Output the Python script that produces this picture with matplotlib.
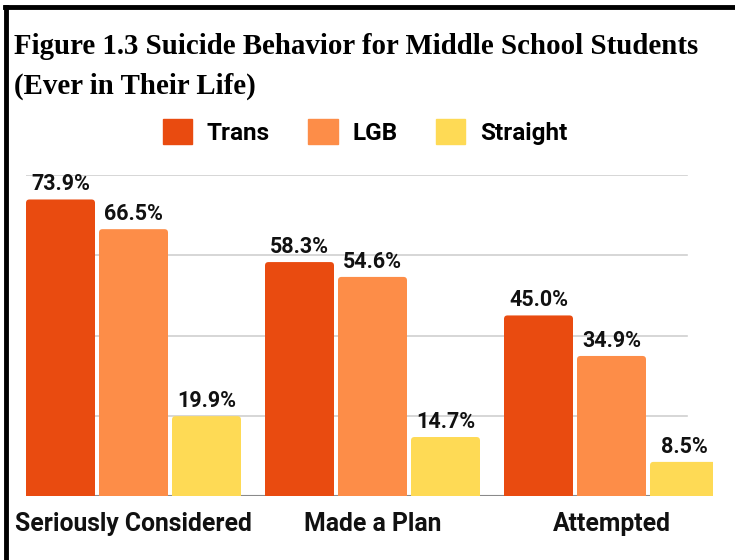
import matplotlib
matplotlib.use("Agg")
import matplotlib.pyplot as plt
import numpy as np
from matplotlib.lines import Line2D
from matplotlib.patches import Rectangle, FancyBboxPatch

categories = ["Seriously Considered", "Made a Plan", "Attempted"]
series_names = ["Trans", "LGB", "Straight"]
trans = [73.9, 58.3, 45.0]
lgb = [66.5, 54.6, 34.9]
straight = [19.9, 14.7, 8.5]
colors = ["#E94B10", "#FD8D48", "#FEDA55"]

W, H = 735, 560
fig = plt.figure(figsize=(W / 100, H / 100), dpi=100)

def fx(px):
    return px / W

def fy(py):
    return 1 - py / H

ax_left, ax_right, ax_top, ax_bot = 26, 713, 175, 496
ax = fig.add_axes([fx(ax_left), fy(ax_bot), fx(ax_right) - fx(ax_left), fy(ax_top) - fy(ax_bot)])
ax.set_ylim(0, 80)
group_px = 239
step = 73 / group_px
width = 69 / group_px
x0 = -step - width / 2
ax.set_xlim(x0, x0 + (ax_right - ax_left) / group_px)

# data units per pixel
xu = 1 / group_px
yu = 80 / (ax_bot - ax_top)
r_px = 3.5

x = np.arange(len(categories))
for i, (vals, c) in enumerate(zip([trans, lgb, straight], colors)):
    bars = ax.bar(x + (i - 1) * step, vals, width=width, color=c, zorder=3)
    for b, v in zip(bars, vals):
        bx, bw, bh = b.get_x(), b.get_width(), b.get_height()
        b.set_visible(False)
        ext = 2.0  # extend below baseline so only top corners show rounded
        p = FancyBboxPatch((bx, -ext), bw, bh + ext,
                           boxstyle=f"round,pad=0,rounding_size={r_px * xu}",
                           mutation_aspect=yu / xu, facecolor=c, edgecolor="none",
                           zorder=3, clip_on=True)
        ax.add_patch(p)
        ax.text(bx + bw / 2, v + 1.0, f"{v:.1f}%",
                ha="center", va="bottom", fontsize=15.5, fontweight="bold",
                family="Roboto", color="#111111", clip_on=False, zorder=4)

# gridlines (ending short of the clipped last bar)
grid_end = (687 - ax_left) / (ax_right - ax_left)
for gv in [20, 40, 60, 80]:
    ax.axhline(gv, xmin=0, xmax=grid_end, color="#d0d0d0", lw=1.2, zorder=1)
ax.axhline(0, xmin=0, xmax=grid_end, color="#8a8a8a", lw=1.5, zorder=2)

for s in ax.spines.values():
    s.set_visible(False)
ax.set_yticks([])
ax.set_xticks([])

# category labels
for cat, xi in zip(categories, x):
    ax.text(xi, -4.0, cat, ha="center", va="top", fontsize=17.8,
            fontweight="bold", family="Roboto", color="#111111",
            clip_on=False)

# Title
fig.text(fx(14), fy(47), "Figure 1.3 Suicide Behavior for Middle School Students",
         ha="left", va="center", fontsize=20.8, fontweight="bold",
         family="Liberation Serif")
fig.text(fx(14), fy(86), "(Ever in Their Life)",
         ha="left", va="center", fontsize=20.8, fontweight="bold",
         family="Liberation Serif")

# Legend
handles = [Rectangle((0, 0), 1, 1, color=c) for c in colors]
leg = fig.legend(handles, series_names, loc="center", bbox_to_anchor=(fx(365), fy(132)),
                 ncol=3, frameon=False, handlelength=1.2, handleheight=1.2,
                 handletextpad=0.6, columnspacing=1.6,
                 prop={"family": "Roboto", "weight": "bold", "size": 17.5})

# Border lines (left and top)
fig.add_artist(Line2D([fx(6), fx(6)], [0, fy(7)], color="black", lw=3.5))
fig.add_artist(Line2D([fx(4.5), 1], [fy(7), fy(7)], color="black", lw=3.5))

fig.savefig("out.png", dpi=100)
